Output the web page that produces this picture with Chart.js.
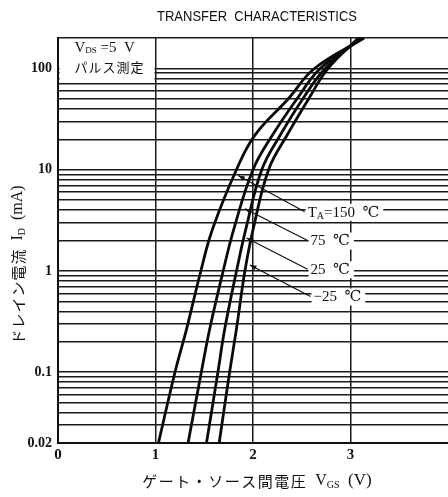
<!DOCTYPE html>
<html><head><meta charset="utf-8">
<script src="https://cdn.jsdelivr.net/npm/chart.js@4.4.0/dist/chart.umd.min.js"></script>
<style>html,body{margin:0;padding:0;background:#fff;overflow:hidden}</style>
</head><body><canvas id="c" width="448" height="497"></canvas>
<script>
// ---- data ----
const currentLevels = [0.02, 0.1, 0.27, 1, 2.6, 10, 22, 50, 100, 200];   // I_D (mA)
const vgs150 = [1.03, 1.20, 1.32, 1.465, 1.585, 1.83, 2.02, 2.36, 2.63, 3.14];
const vgs75  = [1.334, 1.47, 1.557, 1.694, 1.804, 2.00, 2.20, 2.45, 2.69, 3.12];
const vgs25  = [1.523, 1.64, 1.711, 1.831, 1.927, 2.09, 2.28, 2.51, 2.74, 3.10];
const vgsM25 = [1.653, 1.76, 1.831, 1.917, 2.002, 2.16, 2.35, 2.57, 2.77, 3.08];
const seriesNames = ['150 ℃', '75 ℃', '25 ℃', '−25 ℃'];
const xTickValues = [0, 1, 2, 3];
const xTickLabels = ['0', '1', '2', '3'];
const yTickValues = [0.02, 0.1, 1, 10, 100];
const yTickLabels = ['0.02', '0.1', '1', '10', '100'];
const yMantissas = [1, 2, 3, 4, 5, 6, 7, 8, 9];
const yDecades = [0.01, 0.1, 1, 10, 100];

const SERIF = "'Liberation Serif','DejaVu Serif','Noto Sans CJK JP',serif";
const CJK = "'Noto Sans CJK JP',sans-serif";

const yGrid = [];
yDecades.forEach(d => yMantissas.forEach(m => {
  const v = Number((m * d).toPrecision(6));
  if (v >= 0.02 && v <= 200) yGrid.push(v);
}));
if (!yGrid.includes(200)) yGrid.push(200);

const toPts = vs => vs.map((v, i) => ({x: v, y: currentLevels[i]}));
const allSeries = [vgs150, vgs75, vgs25, vgsM25];

// annotation layout (data coordinates)
const annotations = [
  {parts: [{t:'T', f:'15px '+SERIF}, {t:'A', f:'10px '+SERIF, dy:4}, {t:'=150  ℃', f:'15px '+SERIF}], at:[2.53, 3.84], from:[1.848, 8.78]},
  {parts: [{t:'75  ℃', f:'15px '+SERIF}], at:[2.56, 2.0], from:[1.917, 4.11]},
  {parts: [{t:'25  ℃', f:'15px '+SERIF}], at:[2.56, 1.04], from:[1.934, 2.12]},
  {parts: [{t:'−25  ℃', f:'15px '+SERIF}], at:[2.59, 0.56], from:[1.968, 1.147]},
];

function partWidth(ctx, p) {
  ctx.font = p.f;
  const ls = p.ls || 0;
  return ctx.measureText(p.t).width + (ls ? ls * [...p.t].length : 0);
}
function richWidth(ctx, parts) {
  let w = 0;
  parts.forEach(p => { w += partWidth(ctx, p); });
  return w;
}
function drawRich(ctx, parts, x, y) {
  let cx = x;
  parts.forEach(p => {
    ctx.font = p.f;
    if (p.ls) {
      [...p.t].forEach(ch => { ctx.fillText(ch, cx, y + (p.dy || 0)); cx += ctx.measureText(ch).width + p.ls; });
    } else {
      ctx.fillText(p.t, cx, y + (p.dy || 0)); cx += ctx.measureText(p.t).width;
    }
  });
}

const decor = {
  id: 'decor',
  beforeDatasetsDraw(chart) {
    const {ctx} = chart, xs = chart.scales.x, ys = chart.scales.y;
    const x0 = xs.getPixelForValue(0) + 1.5, x1 = xs.getPixelForValue(1) - 1;
    const y0 = ys.getPixelForValue(200) + 1, y1 = ys.getPixelForValue(74);
    ctx.save();
    ctx.fillStyle = '#fff';
    ctx.fillRect(x0, y0, x1 - x0, y1 - y0);
    ctx.fillStyle = '#111';
    ctx.textBaseline = 'middle';
    drawRich(ctx, [{t:'V', f:'15px '+SERIF}, {t:'DS', f:'9px '+SERIF, dy:3}, {t:' =5  V', f:'15px '+SERIF}], x0 + 15, y0 + 9);
    drawRich(ctx, [{t:'パルス測定', f:'13px '+CJK, ls:1}], x0 + 15, y0 + 28);
    ctx.restore();
  },
  afterDatasetsDraw(chart) {
    const {ctx} = chart, xs = chart.scales.x, ys = chart.scales.y;
    ctx.save();
    ctx.strokeStyle = '#111'; ctx.fillStyle = '#111'; ctx.lineWidth = 1.2;
    annotations.forEach(a => {
      const sx = xs.getPixelForValue(a.from[0]), sy = ys.getPixelForValue(a.from[1]);
      const ex = xs.getPixelForValue(a.at[0]), ey = ys.getPixelForValue(a.at[1]);
      ctx.beginPath(); ctx.moveTo(sx, sy); ctx.lineTo(ex, ey); ctx.stroke();
      const ang = Math.atan2(sy - ey, sx - ex);
      ctx.beginPath();
      ctx.moveTo(sx, sy);
      ctx.lineTo(sx - 7 * Math.cos(ang - 0.35), sy - 7 * Math.sin(ang - 0.35));
      ctx.lineTo(sx - 7 * Math.cos(ang + 0.35), sy - 7 * Math.sin(ang + 0.35));
      ctx.closePath(); ctx.fill();
      const w = richWidth(ctx, a.parts);
      ctx.fillStyle = '#fff';
      ctx.fillRect(ex + 1, ey - 8, w + 6, 17);
      ctx.fillStyle = '#111';
      ctx.textBaseline = 'middle';
      drawRich(ctx, a.parts, ex + 3, ey + 1);
    });
    ctx.restore();
  },
  afterDraw(chart) {
    const {ctx} = chart;
    ctx.save();
    ctx.fillStyle = '#111';
    ctx.textBaseline = 'middle';
    ctx.font = "15px 'Liberation Sans',sans-serif";
    const title = 'TRANSFER  CHARACTERISTICS';
    const tw = ctx.measureText(title).width;
    ctx.save();
    ctx.translate(257 - 100, 17);
    ctx.scale(200 / tw, 1);
    ctx.fillText(title, 0, 0);
    ctx.restore();
    const xt = [{t:'ゲート・ソース間電圧', f:'15px '+CJK, ls:1.5}, {t:'  V', f:'16px '+SERIF}, {t:'GS', f:'10px '+SERIF, dy:4}, {t:'  (V)', f:'17px '+SERIF}];
    const xw = richWidth(ctx, xt);
    drawRich(ctx, xt, 257 - xw / 2, 481);
    const yt = [{t:'ドレイン電流', f:'15px '+CJK, ls:1}, {t:'  I', f:'16px '+SERIF}, {t:'D', f:'10px '+SERIF, dy:4}, {t:'  (mA)', f:'16px '+SERIF}];
    const yw = richWidth(ctx, yt);
    ctx.translate(18, 265);
    ctx.rotate(-Math.PI / 2);
    drawRich(ctx, yt, -yw / 2, 0);
    ctx.restore();
  }
};

const lineStyle = {borderColor: '#0a0a0a', borderWidth: 2.8, pointRadius: 0, fill: false, tension: 0.4};

new Chart(document.getElementById('c'), {
  type: 'line',
  data: {
    datasets: allSeries.map((s, i) => Object.assign({label: seriesNames[i], data: toPts(s)}, lineStyle))
  },
  options: {
    responsive: false,
    animation: false,
    devicePixelRatio: 1,
    layout: {padding: {top: 38, right: 0, left: 0, bottom: 0}},
    plugins: {legend: {display: false}, title: {display: false}, tooltip: {enabled: false}},
    scales: {
      x: {
        type: 'linear', min: 0, max: 4,
        afterFit: s => { s.height = 54; },
        afterBuildTicks: s => { s.ticks = xTickValues.map(v => ({value: v})); },
        grid: {color: '#1a1a1a', lineWidth: 1.5, drawTicks: false},
        border: {color: '#111', width: 2},
        ticks: {padding: 3, autoSkip: false, maxRotation: 0, color: '#111', font: {family: SERIF, size: 15, weight: 'bold'},
                callback: (v, i) => xTickLabels[i]}
      },
      y: {
        type: 'logarithmic', min: 0.02, max: 200,
        afterFit: s => { s.width = 58; },
        afterBuildTicks: s => { s.ticks = yGrid.map(v => ({value: v})); },
        grid: {color: '#1a1a1a', lineWidth: 1.5, drawTicks: false},
        border: {color: '#111', width: 2},
        ticks: {padding: 6, autoSkip: false, color: '#111', font: {family: SERIF, size: 14, weight: 'bold'},
                callback: v => { const i = yTickValues.indexOf(Number(Number(v).toPrecision(6))); return i >= 0 ? yTickLabels[i] : ''; }}
      }
    }
  },
  plugins: [decor]
});
</script>
</body></html>
